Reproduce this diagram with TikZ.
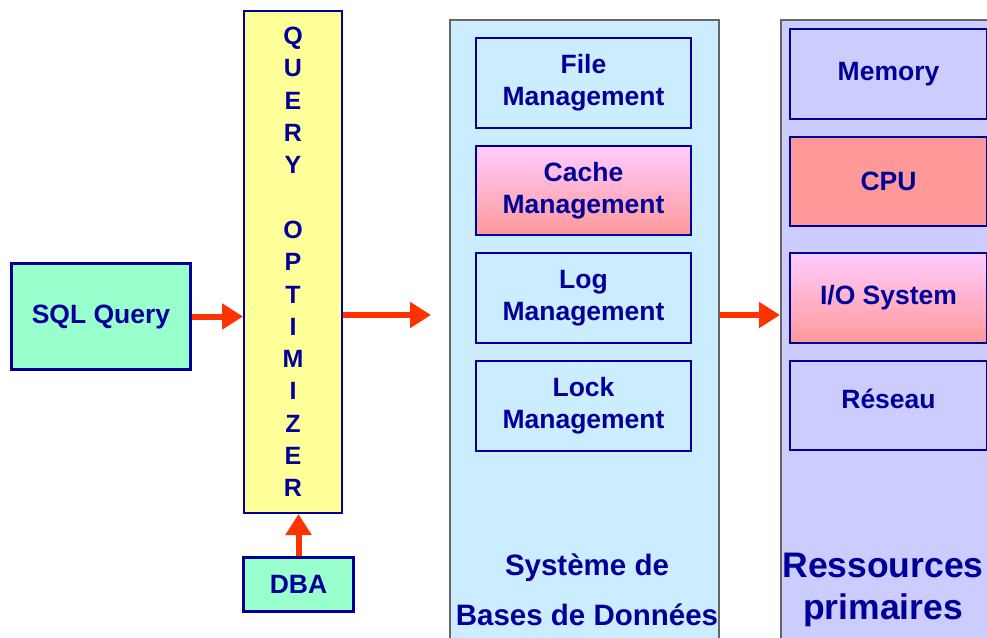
\documentclass[tikz,border=0pt]{standalone}
\usepackage{fontspec}
\setmainfont{Liberation Sans}
\usetikzlibrary{arrows.meta,positioning}
\definecolor{navy}{HTML}{000099}
\definecolor{mint}{HTML}{99FFCC}
\definecolor{pyellow}{HTML}{FFFF99}
\definecolor{lblue}{HTML}{CCECFF}
\definecolor{lav}{HTML}{CCCCFF}
\definecolor{salmon}{HTML}{FF9999}
\definecolor{pinktop}{HTML}{FFCCFF}
\definecolor{arrred}{HTML}{FF3300}
\definecolor{panelgray}{HTML}{666666}
\tikzset{
  txt/.style={text=navy, font=\bfseries\fontsize{26.5}{32}\selectfont, align=center},
  box/.style={txt, draw=navy, line width=2pt, anchor=north west, inner sep=0pt},
  panel/.style={draw=panelgray, line width=1.5pt, anchor=north west, inner sep=0pt},
  grad/.style={top color=pinktop, bottom color=salmon, middle color=pinktop!50!salmon},
  arr/.style={draw=arrred, line width=6pt, -{Triangle[length=21pt,width=25pt]}, shorten >=0pt},
}
\begin{document}
\begin{tikzpicture}[x=1pt,y=-1pt]
\useasboundingbox (0,0) rectangle (987,637);
\clip (0,0) rectangle (987,637);
\fill[white] (0,0) rectangle (987,637);
% left part
\node[box, fill=mint, line width=3pt, minimum width=179pt, minimum height=106pt] (sql) at (10,262) {SQL Query};
\node[box, fill=pyellow, minimum width=98pt, minimum height=502pt, font=\bfseries\fontsize{25}{32.3}\selectfont] (opt) at (243,10)
  {Q\\U\\E\\R\\Y\\[32.3pt]O\\P\\T\\I\\M\\I\\Z\\E\\R};
\node[box, fill=mint, line width=3pt, minimum width=110pt, minimum height=54pt] (dba) at (242,556) {DBA};
% DB system panel
\node[panel, fill=lblue, minimum width=269pt, minimum height=640pt] (db) at (449,19) {};
\node[box, fill=lblue, minimum width=215pt, minimum height=90pt] (file) at (475,37) {File\\Management};
\node[box, grad, minimum width=215pt, minimum height=89pt] (cache) at (475,145) {Cache\\Management};
\node[box, fill=lblue, minimum width=215pt, minimum height=90pt] (log) at (475,252) {Log\\Management};
\node[box, fill=lblue, minimum width=215pt, minimum height=90pt] (lock) at (475,360) {Lock\\Management};
\node[txt, font=\bfseries\fontsize{29.5}{50}\selectfont] (dbl) at (587,590) {Système de\\Bases de Données};
% Resources panel
\node[panel, fill=lav, minimum width=240pt, minimum height=640pt] (res) at (780,19) {};
\node[box, fill=lav, minimum width=197pt, minimum height=90pt] (mem) at (789,28) {Memory};
\node[box, fill=salmon, minimum width=197pt, minimum height=89pt] (cpu) at (789,136) {CPU};
\node[box, grad, minimum width=197pt, minimum height=90pt] (io) at (789,252) {I/O System};
\node[box, fill=lav, minimum width=197pt, minimum height=89pt] (net) at (789,360) {\raisebox{14pt}{Réseau}};
\node[txt, font=\bfseries\fontsize{35.5}{42}\selectfont] (resl) at (883,590) {Ressources\\primaires};
% arrows
\coordinate (dbin) at (431,315);
\draw[arr] (sql.east) -- (opt.west |- sql.east);
\draw[arr] (opt.east |- dbin) -- (dbin);
\draw[arr] (db.east |- dbin) -- (res.west |- dbin);
\draw[arr] (dba.north) -- (opt.south -| dba.north);
\end{tikzpicture}
\end{document}
